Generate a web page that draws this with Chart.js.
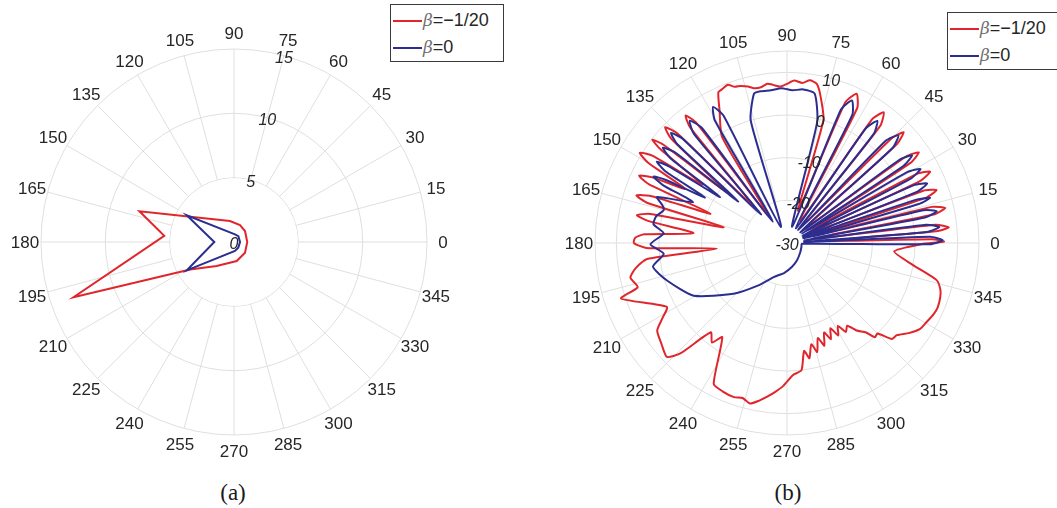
<!DOCTYPE html>
<html>
<head>
<meta charset="utf-8">
<script src="https://cdn.jsdelivr.net/npm/chart.js@4.4.1/dist/chart.umd.min.js"></script>
<style>
  html, body { margin: 0; padding: 0; background: #fff; }
  body { width: 1057px; height: 508px; position: relative; overflow: hidden; font-family: 'Liberation Sans', Arial, sans-serif; }
  canvas { position: absolute; }
  .legend { position: absolute; border: 1px solid #3a3a3a; background: #fff; font-size: 18px; color: #262626; padding-top: 2px; box-sizing: border-box; }
  .legend div { height: 27px; line-height: 27px; white-space: nowrap; }
  .legend .ln { display: inline-block; width: 29px; height: 2px; vertical-align: middle; margin: 0 1px 0 2px; }
  .legend i { font-family: 'DejaVu Serif', serif; color: #707070; font-size: 17px; }
  .cap { position: absolute; top: 479px; line-height: 28px; font-family: 'Liberation Serif', 'Times New Roman', serif; font-size: 23px; color: #1a1a1a; transform: translateX(-50%); }
</style>
</head>
<body>
<canvas id="polarA" width="468" height="468" style="left:0px;top:8px"></canvas>
<canvas id="polarB" width="468" height="468" style="left:553px;top:9px"></canvas>

<div class="legend" style="left:390px;top:4px;width:114px;height:58px">
  <div><span class="ln" style="background:#e0262c"></span><i>β</i>=−1/20</div>
  <div><span class="ln" style="background:#2b2d8f"></span><i>β</i>=0</div>
</div>
<div class="legend" style="left:947px;top:12px;width:114px;height:58px">
  <div><span class="ln" style="background:#e0262c"></span><i>β</i>=−1/20</div>
  <div><span class="ln" style="background:#2b2d8f"></span><i>β</i>=0</div>
</div>
<div class="cap" style="left:233px">(a)</div>
<div class="cap" style="left:788px">(b)</div>

<script>
// ---- data (angle in degrees, radius in axis units) ----
const seriesNames = ['β=-1/20', 'β=0'];
const thetaTicks = [0, 15, 30, 45, 60, 75, 90, 105, 120, 135, 150, 165, 180, 195, 210, 225, 240, 255, 270, 285, 300, 315, 330, 345];

// (a) linear radius 0..15
const rTicksA = [0, 5, 10, 15];
const redDegA = [0, 45, 70.5, 101, 162, 175, 199, 212, 234, 278, 316];
const redValA = [1.03, 1.21, 1.40, 1.66, 7.73, 5.44, 13.19, 4.02, 2.30, 1.49, 1.19];
const blueDegA = [0, 54, 82.5, 150.5, 180, 211, 276, 307];
const blueValA = [0.47, 0.57, 0.60, 4.22, 1.53, 4.28, 0.70, 0.55];

// (b) dB radius -30..15
const rTicksB = [-30, -20, -10, 0, 10];
const blueDegB = [1, 2.5, 3.5, 4.5, 6, 7.5, 9, 10.5, 12, 13.5, 15, 16.5, 17.5, 18.5, 20.5, 21.5, 23, 24.5,
  26, 27.5, 29, 30.5, 32, 33.5, 35, 36.5, 39.5, 42, 44, 46, 49, 51.5, 53.5, 55.5, 59.5, 63, 65.5, 68, 72.5,
  76, 79.5, 84, 88, 92, 96, 100, 102.5, 106.5, 111,
  116.5, 118.5, 120.5, 124, 126.5, 128.5, 130.5, 132.5, 135, 136.5, 138, 139.5, 141, 142.5, 144, 145.5,
  147, 148, 149.5, 151, 152.5, 153.5, 155, 156.5,
  160.5, 163, 165, 168.5, 172, 175.5, 180.5, 185, 190, 197.5, 209.5, 223.5, 236, 248.5, 265, 282, 300,
  325, 345, 357, 359.5];
const blueValB = [6.5, 3.5, -26, 2.9, 5.9, 2.9, -26, 2.9, 5.9, 2.9, -26, 2.2, 5.2, 2.2, -26, 2.7, 5.7, 2.7,
  -26, 2.8, 5.8, 2.8, -26, 2.8, 5.8, 2.8, -26, 3.3, 6.3, 3.3, -26, 2.6, 5.6, 2.6, -26, 3.7, 6.7, 3.7, -26,
  -0.8, 5.6, 6.2, 5.8, 6.3, 6.0, 6.1, 5.8, -0.1, -26,
  3.3, 6.3, 3.3, -24, 3.6, 6.6, 3.6, -21, 4.5, 7.5, 4.5, -15, 3.7, 6.7, 3.7, -11,
  3.0, 6.0, 3.0, -8, 2.0, 5.0, 2.0, -6,
  2.3, 0.6, -0.1, 1.3, 1.6, -1.0, 2.0, -1.0, 1.9, -0.6, -4.9, -12.7, -18, -21.4, -23, -24.3, -25.3,
  -26.2, -26.5, -26.5, 3.5];

const redDegB = [0.5, 1.5, 3, 4.5, 5.5, 7, 9, 11, 12.5, 14, 16, 18, 19.5, 21, 23, 25, 26.5, 28, 30.5,
  33, 34.5, 36, 39, 42, 43.5, 45, 48.5, 51.5, 53.5, 55.5, 59, 62.5, 65, 67.5, 71,
  73.5, 77.5, 79.5, 82, 84.5, 87.5, 90, 92.5, 95, 97, 99.5, 102, 104, 106.5, 108.5, 110.5, 112.5, 114.5,
  117, 121.5, 124.5,
  127, 128.5, 130, 132.5, 135, 136.5, 138, 140, 141.5, 142.5, 143.5, 145.5, 147, 148.5, 150, 152,
  154, 155.5, 157, 159, 161, 162.5, 164, 166, 168, 169.5, 171, 174, 176.5, 178, 180, 182, 184.5,
  186.5, 189.5, 192.5, 196.5, 198.5, 208, 211, 214, 219, 223.5, 226, 229.5, 233, 235.5,
  242.5, 246.5, 251, 254, 257, 260, 262.5, 265.5, 268.5, 272.5,
  276.5, 279, 281, 283.5, 285.5, 288, 290, 292.5, 294.5, 297, 299, 301.5, 303.5, 306, 308.5,
  311.5, 313, 315, 317.5, 320, 323.5, 327, 330.5, 334, 337, 340.5, 343, 346, 350, 355.5, 359.5];
const redValB = [6.8, 4.0, -20, 5.1, 8.1, 5.1, -24, 5.0, 8.0, 5.0, -24, 4.2, 7.2, 4.2, -24, 4.5, 7.5, 4.5, -24,
  4.5, 7.5, 4.5, -24, 4.7, 7.7, 4.7, -24, 5.1, 8.1, 5.1, -24, 5.6, 8.6, 5.6, -22,
  0, 5.8, 8.0, 8.5, 7.7, 8.1, 7.3, 6.7, 7.2, 7.6, 7.0, 7.1, 7.8, 8.4, 8.6, 9.6, 9.2, 8.8,
  4.8, -0.9, -22,
  5.2, 8.2, 5.2, -18, 6.4, 9.4, 6.4, -12, 6.8, 9.8, 6.8, -6, 7.5, 10.5, 7.5, -3,
  5.1, 8.1, 5.1, -10.8, 4.0, 7.0, 4.0, -14.7, 2.8, 5.8, 2.8, -8, 3.5, 5.6, 5.9, 3.0, -13.5,
  3.0, 6.0, 7.6, 6.5, 11.0, 1.9, 4.0, 6.7, 7.8, 8.8, 6.0, -2.5, -0.8, -3.2,
  7.2, 7.9, 8.2, 7.8, 8.6, 7.5, 6.4, 5.0, 3.5, 1.0,
  0.0, -4.4, -2.5, -5.6, -3.5, -6.6, -4.4, -7.3, -5.2, -7.6, -5.2, -7.2, -5.0, -6.0, -3.8,
  -2.0, 0.2, 0.0, 3.3, 3.6, 5.5, 7.1, 7.6, 8.2, 8.4, 8.1, 7.6, 6.2, 0.1, -4.8, 1.5];

// ---- styling ----
const RED = '#e0262c';
const BLUE = '#2b2d8f';
const GRID = '#dfdfdf';
const TXT = '#262626';
const FONT = "'Liberation Sans', Arial, sans-serif";

// radar labels every half degree; index 0 sits at 75 deg so r-tick labels run along that spoke
const STEP = 0.5;
const N = 720;
const START = 75;
const angleLabels = [];
for (let i = 0; i < N; i++) angleLabels.push(String(((START - i * STEP) % 360 + 360) % 360));

function indexOfAngle(a) {
  return Math.round((((START - a) % 360 + 360) % 360) / STEP) % N;
}

function toSeries(degs, vals) {
  const out = new Array(N).fill(null);
  degs.forEach((a, k) => { out[indexOfAngle(a)] = vals[k]; });
  return out;
}

// white hub inside the first ring, theta labels centred on their spokes (matlab style),
// italic r-tick labels along the 75 deg spoke
function polarExtras(rTicks) {
  return {
    id: 'polarExtras',
    beforeDatasetsDraw(chart) {
      const s = chart.scales.r;
      const ctx = chart.ctx;
      ctx.save();
      ctx.fillStyle = '#fff';
      ctx.beginPath();
      ctx.arc(s.xCenter, s.yCenter, s.getDistanceFromCenterForValue(rTicks[1]) - 0.6, 0, Math.PI * 2);
      ctx.fill();

      ctx.font = '17px ' + FONT;
      ctx.fillStyle = TXT;
      ctx.textAlign = 'center';
      ctx.textBaseline = 'middle';
      thetaTicks.forEach(a => {
        const p = s.getPointPosition(indexOfAngle(a), s.drawingArea + 16);
        ctx.fillText(String(a), p.x, p.y + 1);
      });
      ctx.restore();
    },
    afterDatasetsDraw(chart) {
      const s = chart.scales.r;
      const ctx = chart.ctx;
      ctx.save();
      ctx.font = 'italic 16px ' + FONT;
      ctx.fillStyle = TXT;
      ctx.textAlign = 'center';
      ctx.textBaseline = 'middle';
      rTicks.forEach(v => {
        const p = s.getPointPositionForValue(0, v);
        ctx.fillText(String(v), p.x, p.y + 3);
      });
      ctx.restore();
    }
  };
}

function makePolar(id, red, blue, rMin, rMax, rStep, rTicks, pad, tension) {
  return new Chart(document.getElementById(id), {
    type: 'radar',
    data: {
      labels: angleLabels,
      datasets: [
        { label: seriesNames[0], data: red, borderColor: RED, borderWidth: 2, fill: false, spanGaps: true, order: 2 },
        { label: seriesNames[1], data: blue, borderColor: BLUE, borderWidth: 2, fill: false, spanGaps: true, order: 1 }
      ]
    },
    options: {
      responsive: false,
      animation: false,
      devicePixelRatio: 1,
      events: [],
      layout: { padding: pad },
      plugins: { legend: { display: false }, tooltip: { enabled: false } },
      elements: { point: { radius: 0 }, line: { tension: tension } },
      scales: {
        r: {
          min: rMin,
          max: rMax,
          startAngle: 90 - START,
          ticks: { display: false, stepSize: rStep },
          grid: { circular: true, color: GRID, lineWidth: 1 },
          angleLines: {
            color: GRID,
            lineWidth: c => (thetaTicks.includes(Number(angleLabels[c.index])) ? 1 : 0)
          },
          pointLabels: { display: false }
        }
      }
    },
    plugins: [polarExtras(rTicks)]
  });
}

makePolar('polarA', toSeries(redDegA, redValA), toSeries(blueDegA, blueValA), 0, 15, 5, rTicksA, 41, 0);
makePolar('polarB', toSeries(redDegB, redValB), toSeries(blueDegB, blueValB), -30, 15, 10, rTicksB, 42, 0.2);
</script>
</body>
</html>
